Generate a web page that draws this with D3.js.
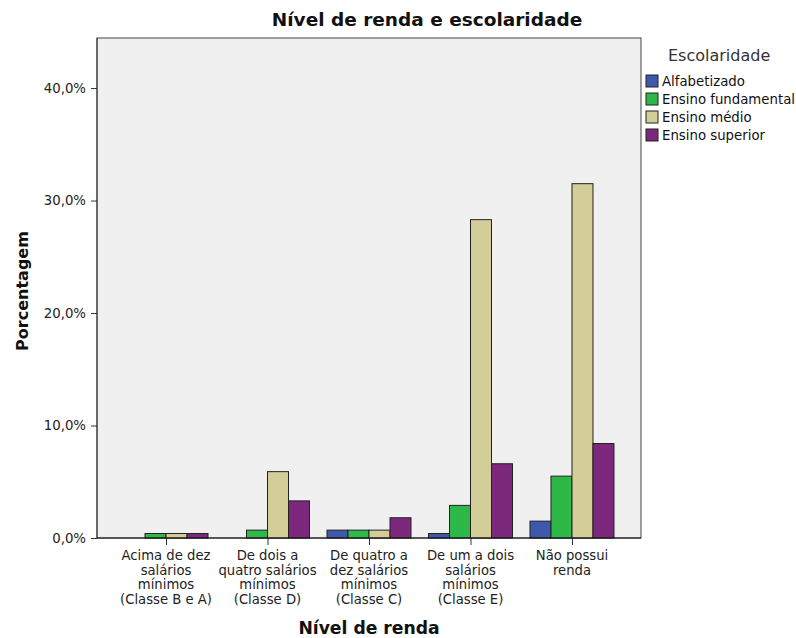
<!DOCTYPE html>
<html><head><meta charset="utf-8">
<script src="https://cdn.jsdelivr.net/npm/d3@7"></script>
<style>body{margin:0;background:#fff;}svg{display:block;font-family:"DejaVu Sans",Verdana,sans-serif;}</style>
</head><body><svg id="c" width="796" height="638"></svg>
<script>
const categories = [
  ["Acima de dez","salários","mínimos","(Classe B e A)"],
  ["De dois a","quatro salários","mínimos","(Classe D)"],
  ["De quatro a","dez salários","mínimos","(Classe C)"],
  ["De um a dois","salários","mínimos","(Classe E)"],
  ["Não possui","renda"]
];
const seriesNames = ["Alfabetizado","Ensino fundamental","Ensino médio","Ensino superior"];
const seriesColors = ["#3e58ac","#2eb848","#d3ce97","#7c287d"];
const alfabetizado = [0, 0, 0.7, 0.4, 1.5];
const fundamental  = [0.4, 0.7, 0.7, 2.9, 5.5];
const medio        = [0.4, 5.9, 0.7, 28.3, 31.5];
const superior     = [0.4, 3.3, 1.8, 6.6, 8.4];
const seriesValues = [alfabetizado, fundamental, medio, superior];
const yTicks = [0, 10, 20, 30, 40];

const FONT = "DejaVu Sans, Verdana, sans-serif";
const svg = d3.select("#c");
const L = 97, R = 641, T = 38, B = 538;
const y = d3.scaleLinear().domain([0, 44.45]).range([B, T]);
const x = d3.scalePoint().domain(d3.range(categories.length)).range([L, R]).padding(0.68);
const inner = d3.scaleBand().domain(d3.range(4)).range([-42, 42]);

svg.append("rect").attr("x", L).attr("y", T).attr("width", R - L).attr("height", B - T)
  .attr("fill", "#f0f0f0").attr("stroke", "#444").attr("stroke-width", 1);

const groups = svg.append("g").selectAll("g").data(categories).join("g")
  .attr("transform", (d, i) => `translate(${x(i)},0)`);
groups.each(function(d, i) {
  const g = d3.select(this);
  seriesValues.forEach((vals, s) => {
    const v = vals[i];
    if (v <= 0) return;
    g.append("rect").attr("x", inner(s)).attr("width", inner.bandwidth())
      .attr("y", y(v)).attr("height", B - y(v))
      .attr("fill", seriesColors[s]).attr("stroke", "#222").attr("stroke-width", 1);
  });
});

const yAxis = svg.append("g").attr("transform", `translate(${L},0)`)
  .call(d3.axisLeft(y).tickValues(yTicks).tickSize(6).tickFormat(d => d.toFixed(1).replace(".", ",") + "%"));
yAxis.select(".domain").remove();
yAxis.selectAll("line").attr("stroke", "#333");
yAxis.selectAll("text").attr("font-size", 13.3).attr("fill", "#222").attr("font-family", FONT).attr("x", -11);

const xAxis = svg.append("g").attr("transform", `translate(0,${B})`)
  .call(d3.axisBottom(x).tickSize(7).tickFormat(""));
xAxis.select(".domain").remove();
xAxis.selectAll("line").attr("stroke", "#333");
svg.append("line").attr("x1", L).attr("x2", R).attr("y1", B).attr("y2", B).attr("stroke", "#111");
svg.append("line").attr("x1", L).attr("x2", L).attr("y1", T).attr("y2", B).attr("stroke", "#333");

const lab = svg.append("g").attr("font-size", 13.2).attr("fill", "#222").attr("text-anchor", "middle");
categories.forEach((lines, i) => {
  const t = lab.append("text").attr("x", x(i)).attr("y", 560);
  lines.forEach((ln, k) => t.append("tspan").attr("x", x(i)).attr("y", 560 + k * 14.7).text(ln));
});

svg.append("text").attr("x", 427).attr("y", 26).attr("text-anchor", "middle")
  .attr("font-size", 18.5).attr("font-weight", "bold").attr("fill", "#111").text("Nível de renda e escolaridade");
svg.append("text").attr("x", 369).attr("y", 634).attr("text-anchor", "middle")
  .attr("font-size", 17.2).attr("font-weight", "bold").attr("fill", "#111").text("Nível de renda");
svg.append("text").attr("transform", "translate(28,291) rotate(-90)").attr("text-anchor", "middle")
  .attr("font-size", 16).attr("font-weight", "bold").attr("fill", "#111").text("Porcentagem");

const leg = svg.append("g");
leg.append("text").attr("x", 668).attr("y", 61).attr("font-size", 16).attr("fill", "#333").text("Escolaridade");
seriesNames.forEach((n, s) => {
  const yy = 75 + s * 18;
  leg.append("rect").attr("x", 646).attr("y", yy).attr("width", 12).attr("height", 12)
    .attr("fill", seriesColors[s]).attr("stroke", "#222");
  leg.append("text").attr("x", 662).attr("y", yy + 10.5).attr("font-size", 13.3).attr("fill", "#111").text(n);
});
</script></body></html>
